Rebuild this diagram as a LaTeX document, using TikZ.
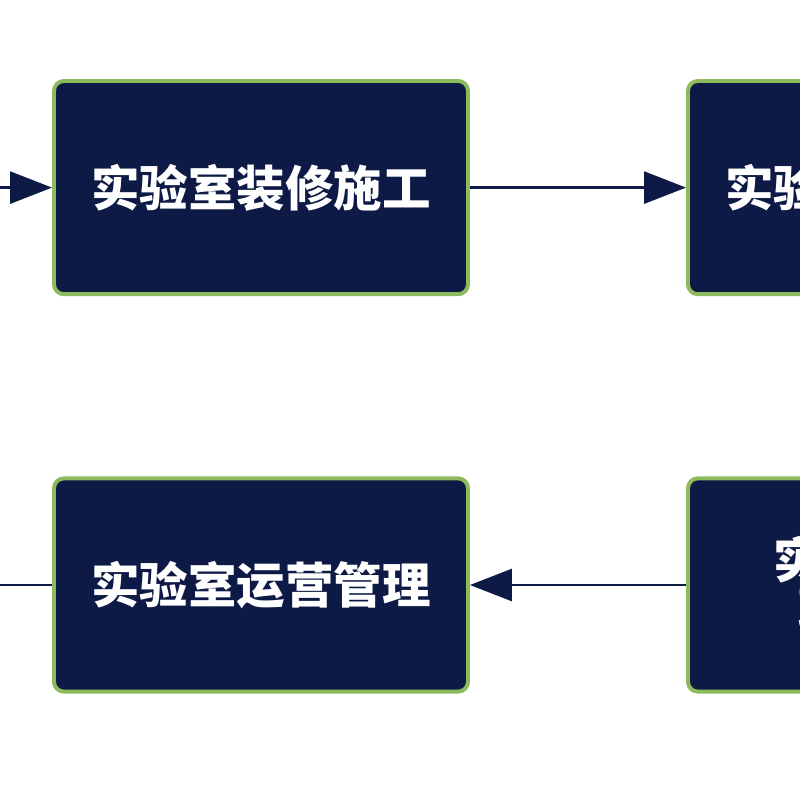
\documentclass[tikz,border=0pt]{standalone}
\usepackage{fontspec}
\newfontfamily\cjk{Noto Sans CJK SC}
\usetikzlibrary{arrows.meta,positioning}
\definecolor{navy}{HTML}{0D1A45}
\definecolor{leaf}{HTML}{8DBA5C}
\begin{document}
\begin{tikzpicture}[
  stage/.style={draw=leaf,fill=navy,line width=2.8pt,rounded corners=7pt,
    minimum width=10.35cm,minimum height=5.33cm,text=white,align=center,
    font=\cjk\bfseries\fontsize{34.5}{36}\selectfont},
  flow/.style={draw=navy,line width=2pt,-{Triangle[length=1.05cm,width=0.8cm]}},
  link/.style={draw=navy,line width=2pt}
]
\useasboundingbox (0,0) rectangle (20,-20);
\clip (0,0) rectangle (20,-20);
\node[stage] (decor) at (6.525,-4.69) {实验室装修施工};
\node[stage] (install) at (22.375,-4.69) {实验室设备安装};
\node[stage] (operate) at (6.525,-14.625) {实验室运营管理};
\node[stage] (accept) at (22.375,-14.625) {实验室竣工\\验收交付};
\coordinate (prev) at (-1,-4.69);
\coordinate (next) at (-1,-14.625);
\draw[flow] (prev) -- (decor);
\draw[flow] (decor) -- (install);
\draw[flow] (accept) -- (operate);
\draw[link] (operate) -- (next);
\end{tikzpicture}
\end{document}
